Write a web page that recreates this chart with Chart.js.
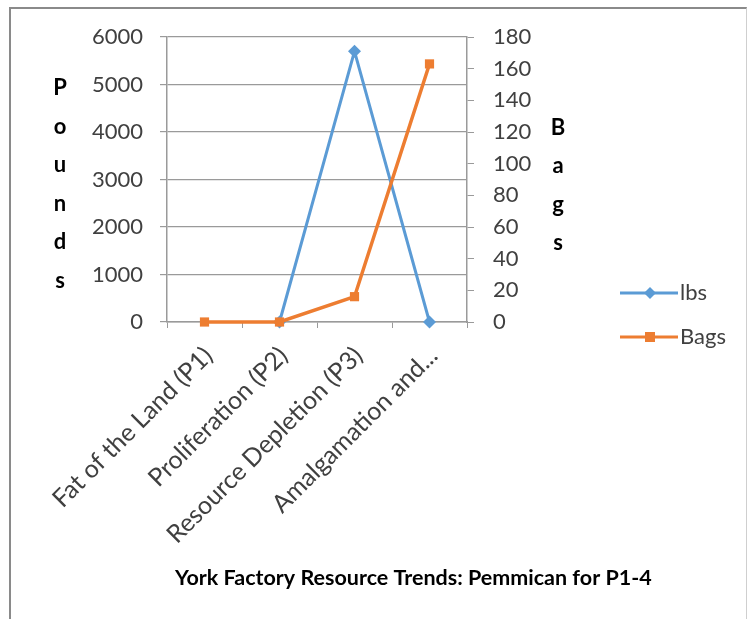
<!DOCTYPE html>
<html>
<head>
<meta charset="utf-8">
<title>York Factory Resource Trends: Pemmican for P1-4</title>
<script src="https://cdn.jsdelivr.net/npm/chart.js@4.4.1/dist/chart.umd.min.js"></script>
<style>
    html, body { margin: 0; padding: 0; background: #ffffff; }
    #wrap { position: relative; width: 747px; height: 619px; }
    #frame {
        position: absolute; left: 9px; top: 7px; width: 735px; height: 610px;
        border-top: 2px solid #8a8a8a; border-left: 2px solid #8a8a8a;
        border-right: 1px solid #cfcfcf; pointer-events: none;
    }
</style>
</head>
<body>
<div id="wrap">
    <canvas id="chart" width="747" height="619"></canvas>
    <div id="frame"></div>
</div>
<script>
// Chart data
const categories = ['Fat of the Land (P1)', 'Proliferation (P2)', 'Resource Depletion (P3)', 'Amalgamation and...'];
const lbsValues = [null, 0, 5700, 0];
const bagsValues = [0, 0, 16, 163];

const poundsTicks = [0, 1000, 2000, 3000, 4000, 5000, 6000];
const bagsTicks = [0, 20, 40, 60, 80, 100, 120, 140, 160, 180];

const chartTitle = 'York Factory Resource Trends: Pemmican for P1-4';
const leftAxisTitle = 'Pounds';
const rightAxisTitle = 'Bags';

const blue = '#5B9BD5';
const orange = '#ED7D31';
const textColor = '#404040';
const gridColor = '#9a9a9a';
const fontFamily = 'Lato, "Open Sans", sans-serif';

// Draws the stacked axis titles, legend and bottom title
const extrasPlugin = {
    id: 'extras',
    afterDraw(chart) {
        const ctx = chart.ctx;
        ctx.save();

        // stacked axis titles
        ctx.fillStyle = '#000000';
        ctx.font = 'bold 22px ' + fontFamily;
        ctx.textAlign = 'center';
        ctx.textBaseline = 'middle';
        leftAxisTitle.split('').forEach((ch, i) => {
            ctx.fillText(ch, 60, 88 + i * 38.5);
        });
        rightAxisTitle.split('').forEach((ch, i) => {
            ctx.fillText(ch, 558, 128 + i * 38.3);
        });

        // legend
        const items = chart.data.datasets.map(ds => ({
            label: ds.label, color: ds.borderColor, style: ds.pointStyle
        }));
        items.forEach((item, i) => {
            const y = 293 + i * 44;
            ctx.strokeStyle = item.color;
            ctx.lineWidth = 3;
            ctx.beginPath();
            ctx.moveTo(620, y);
            ctx.lineTo(678, y);
            ctx.stroke();
            ctx.fillStyle = item.color;
            ctx.beginPath();
            if (item.style === 'rect') {
                ctx.rect(645, y - 5, 10, 10);
            } else {
                ctx.moveTo(650, y - 6);
                ctx.lineTo(656, y);
                ctx.lineTo(650, y + 6);
                ctx.lineTo(644, y);
                ctx.closePath();
            }
            ctx.fill();
            ctx.fillStyle = textColor;
            ctx.font = '22px ' + fontFamily;
            ctx.textAlign = 'left';
            ctx.fillText(item.label, 680, y);
        });

        // bottom title
        ctx.fillStyle = '#000000';
        ctx.font = 'bold 21.5px ' + fontFamily;
        ctx.textAlign = 'left';
        ctx.fillText(chartTitle, 175, 578);

        ctx.restore();
    }
};

new Chart(document.getElementById('chart'), {
    type: 'line',
    data: {
        labels: categories,
        datasets: [
            {
                label: 'lbs',
                data: lbsValues,
                yAxisID: 'y',
                borderColor: blue,
                backgroundColor: blue,
                borderWidth: 3,
                pointStyle: 'rectRot',
                pointRadius: 6.5,
                pointBorderWidth: 0,
                tension: 0,
                clip: false,
                order: 1
            },
            {
                label: 'Bags',
                data: bagsValues,
                yAxisID: 'y1',
                borderColor: orange,
                backgroundColor: orange,
                borderWidth: 3.5,
                pointStyle: 'rect',
                pointRadius: 6.5,
                pointBorderWidth: 0,
                tension: 0,
                clip: false,
                order: 0
            }
        ]
    },
    options: {
        responsive: false,
        animation: false,
        layout: { padding: { top: 37, bottom: 47, left: 0, right: 0 } },
        plugins: {
            legend: { display: false },
            title: { display: false },
            tooltip: { enabled: false }
        },
        scales: {
            x: {
                offset: true,
                grid: {
                    offset: true,
                    drawOnChartArea: false,
                    drawTicks: true,
                    tickLength: 6,
                    color: gridColor
                },
                border: { display: true, color: gridColor, width: 1.5 },
                ticks: {
                    autoSkip: false,
                    minRotation: 45,
                    maxRotation: 45,
                    padding: 13,
                    labelOffset: 4,
                    color: textColor,
                    font: { family: fontFamily, size: 25 }
                },
                afterFit: (scale) => { scale.height = 250; }
            },
            y: {
                position: 'left',
                min: poundsTicks[0],
                max: poundsTicks[poundsTicks.length - 1],
                afterBuildTicks: (scale) => { scale.ticks = poundsTicks.map(v => ({ value: v })); },
                grid: {
                    color: gridColor,
                    lineWidth: 1.2,
                    drawTicks: true,
                    tickLength: 7
                },
                border: { display: true, color: gridColor, width: 1.5 },
                ticks: {
                    padding: 17,
                    color: textColor,
                    font: { family: fontFamily, size: 22 },
                    callback: (value) => String(value)
                },
                afterFit: (scale) => { scale.width = 167; }
            },
            y1: {
                position: 'right',
                min: bagsTicks[0],
                max: bagsTicks[bagsTicks.length - 1],
                afterBuildTicks: (scale) => { scale.ticks = bagsTicks.map(v => ({ value: v })); },
                grid: {
                    drawOnChartArea: false,
                    drawTicks: true,
                    tickLength: 7,
                    color: gridColor
                },
                border: { display: true, color: gridColor, width: 1.5 },
                ticks: {
                    padding: 19,
                    color: textColor,
                    font: { family: fontFamily, size: 22 },
                    callback: (value) => String(value)
                },
                afterFit: (scale) => { scale.width = 280; }
            }
        }
    },
    plugins: [extrasPlugin]
});
</script>
</body>
</html>
